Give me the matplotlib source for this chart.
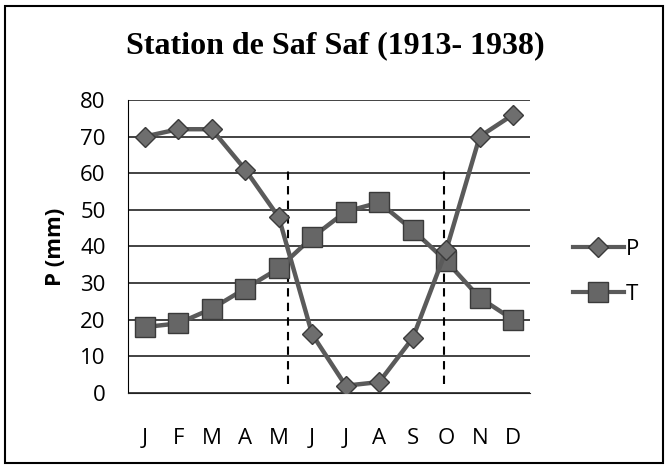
import matplotlib.pyplot as plt
from matplotlib.lines import Line2D

months = ['J', 'F', 'M', 'A', 'M', 'J', 'J', 'A', 'S', 'O', 'N', 'D']
precip = [70, 72, 72, 61, 48, 16, 2, 3, 15, 39, 70, 76]
temp = [18, 19, 23, 28.5, 34, 42.5, 49.5, 52, 44.5, 36, 26, 20]
dry_start = 4.28
dry_end = 8.92
dry_top = 61
dry_bottom = 2.5

plt.rcParams['font.family'] = ['Open Sans', 'DejaVu Sans']

fig = plt.figure(figsize=(6.7, 4.69), dpi=100)
ax = fig.add_axes([0.191, 0.162, 0.6, 0.625])

x = list(range(len(months)))
line_col = '#5a5a5a'
ax.plot(x, precip, color=line_col, lw=3.2, marker='D', ms=10,
        mfc='#6e6e6e', mec='#3a3a3a', mew=1, zorder=4)
ax.plot(x, temp, color=line_col, lw=3.2, marker='s', ms=14,
        mfc='#666666', mec='#3a3a3a', mew=1, zorder=3)

ax.vlines([dry_start, dry_end], dry_bottom, dry_top, colors='black',
          linestyles=(0, (4, 3)), lw=1.5, zorder=2)

ax.set_xlim(-0.5, 11.5)
ax.set_ylim(0, 80)
ax.set_yticks(range(0, 81, 10))
ax.set_xticks(x)
ax.set_xticklabels(months)
ax.yaxis.grid(True, color='#222222', lw=1.2)
ax.set_axisbelow(True)
for s in ['top', 'right']:
    ax.spines[s].set_visible(False)
ax.spines['left'].set_color('black')
ax.spines['bottom'].set_color('#222222')
ax.tick_params(axis='both', length=0, labelsize=16)
ax.tick_params(axis='x', pad=25)
ax.tick_params(axis='y', pad=16)
ax.set_ylabel('P (mm)', fontsize=16, fontweight='bold', labelpad=10)

fig.text(0.5, 0.902, 'Station de Saf Saf (1913- 1938)', ha='center', va='center',
         fontsize=23, fontweight='bold', family='Liberation Serif')

handles = [
    Line2D([], [], color=line_col, lw=3, marker='D', ms=10, mfc='#6e6e6e', mec='#3a3a3a'),
    Line2D([], [], color=line_col, lw=3, marker='s', ms=14, mfc='#666666', mec='#3a3a3a'),
]
fig.legend(handles, ['P', 'T'], loc='center left', bbox_to_anchor=(0.825, 0.42),
           frameon=False, fontsize=16, handlelength=2.3, handletextpad=0.1,
           labelspacing=1.1)

border = plt.Rectangle((0.008, 0.012), 0.982, 0.975, transform=fig.transFigure,
                       fill=False, ec='black', lw=1.5)
fig.patches.append(border)

fig.savefig('out.png', dpi=100)
